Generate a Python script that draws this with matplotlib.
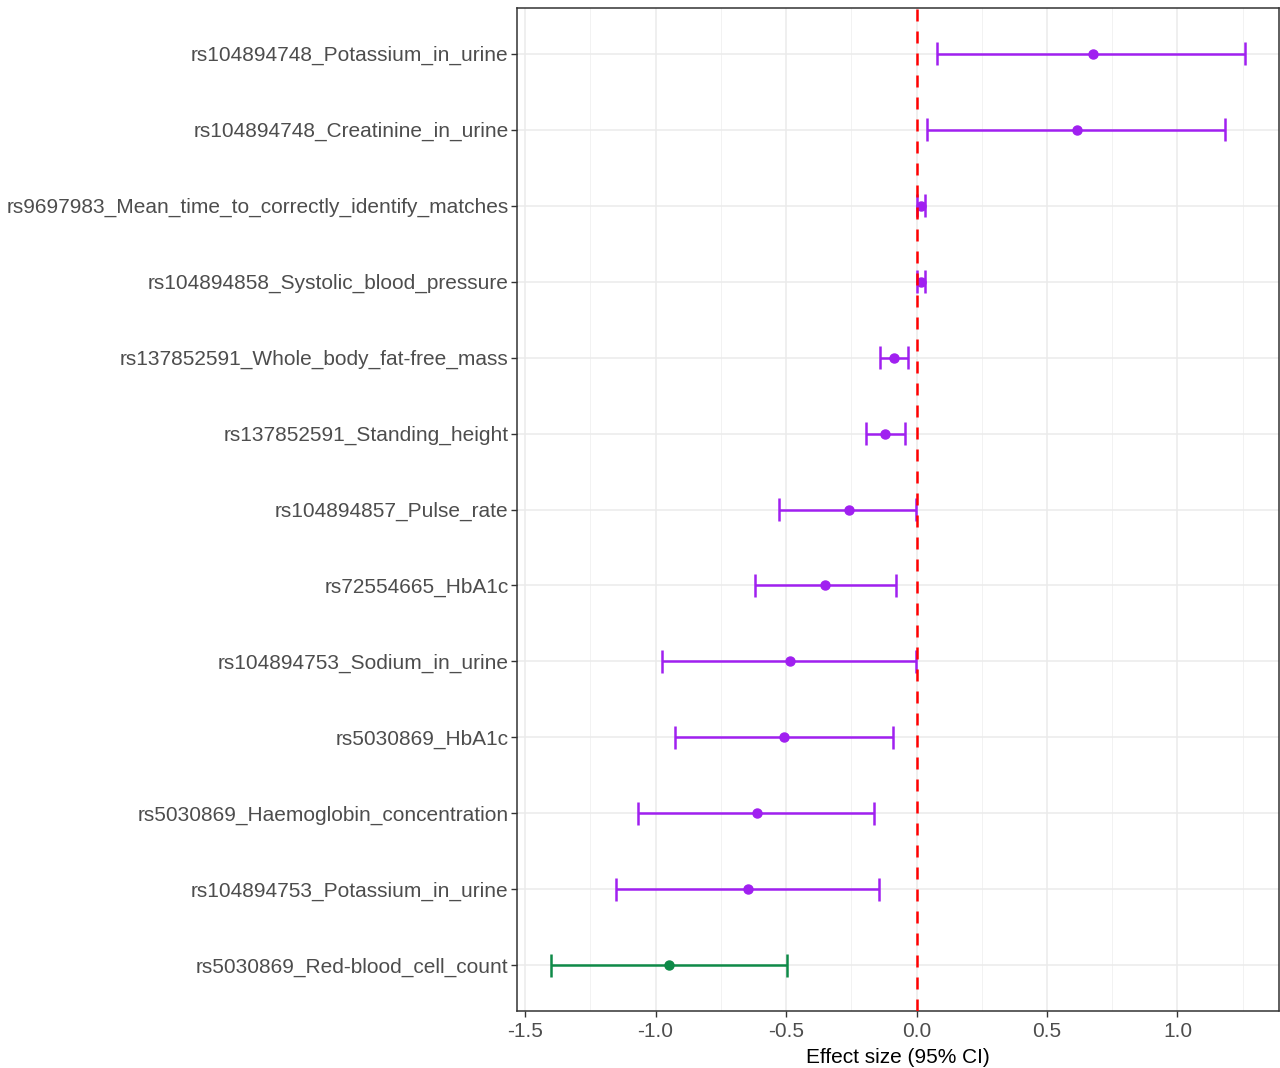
import numpy as np
import matplotlib
matplotlib.use("Agg")
import matplotlib.pyplot as plt
from matplotlib.ticker import MultipleLocator

plt.rcParams['font.family'] = ['Liberation Sans', 'DejaVu Sans']

#### data (top to bottom as drawn)
labels = [
    "rs104894748_Potassium_in_urine",
    "rs104894748_Creatinine_in_urine",
    "rs9697983_Mean_time_to_correctly_identify_matches",
    "rs104894858_Systolic_blood_pressure",
    "rs137852591_Whole_body_fat-free_mass",
    "rs137852591_Standing_height",
    "rs104894857_Pulse_rate",
    "rs72554665_HbA1c",
    "rs104894753_Sodium_in_urine",
    "rs5030869_HbA1c",
    "rs5030869_Haemoglobin_concentration",
    "rs104894753_Potassium_in_urine",
    "rs5030869_Red-blood_cell_count",
]
effect = [0.676, 0.615, 0.017, 0.017, -0.086, -0.121, -0.259, -0.351, -0.485, -0.508, -0.611, -0.646, -0.950]
lower = [0.079, 0.040, 0.001, 0.002, -0.140, -0.193, -0.527, -0.619, -0.975, -0.925, -1.067, -1.151, -1.400]
upper = [1.259, 1.182, 0.032, 0.032, -0.033, -0.044, -0.002, -0.079, -0.002, -0.090, -0.163, -0.144, -0.498]
group = ["pos"] * 12 + ["neg"]

colours = {"pos": "#A020F0", "neg": "#0E8A48"}

fig = plt.figure(figsize=(12.8, 10.68), dpi=100)
ax = fig.add_axes([517/1280, 1 - 1011/1068, 762/1280, 1003/1068])

n = len(labels)
ypos = np.arange(n)[::-1]  # first label on top

# grid (theme_bw style)
ax.set_axisbelow(True)
ax.xaxis.set_major_locator(MultipleLocator(0.5))
ax.xaxis.set_minor_locator(MultipleLocator(0.25))
ax.grid(True, which='major', color='#EBEBEB', lw=1.1)
ax.grid(True, which='minor', axis='x', color='#F2F2F2', lw=0.7)

for i in range(n):
    c = colours[group[i]]
    y = ypos[i]
    ax.plot([lower[i], upper[i]], [y, y], color=c, lw=1.8, solid_capstyle='butt', zorder=3)
    for xx in (lower[i], upper[i]):
        ax.plot([xx, xx], [y - 0.15, y + 0.15], color=c, lw=1.8, solid_capstyle='butt', zorder=3)
    ax.plot(effect[i], y, 'o', color=c, ms=6.5, zorder=4)

ax.axvline(0, color='red', ls=(0, (4.8, 4)), lw=1.8, zorder=5)

ax.set_yticks(ypos)
ax.set_yticklabels(labels)
ax.set_ylim(-0.6, n - 1 + 0.6)
ax.set_xlim(-1.531, 1.389)
ax.set_xticks([-1.5, -1.0, -0.5, 0.0, 0.5, 1.0])
ax.set_xticklabels(["-1.5", "-1.0", "-0.5", "0.0", "0.5", "1.0"])

ax.tick_params(axis='both', which='major', labelsize=15, labelcolor='#4D4D4D',
               color='#333333', length=4, width=1, pad=2)
ax.tick_params(axis='x', which='major', pad=4)
ax.tick_params(axis='x', which='minor', length=0)
for sp in ax.spines.values():
    sp.set_color('#333333')
    sp.set_linewidth(1.1)

ax.set_xlabel("Effect size (95% CI)", fontsize=15, color='black', labelpad=5)

fig.savefig("out.png", dpi=100)
